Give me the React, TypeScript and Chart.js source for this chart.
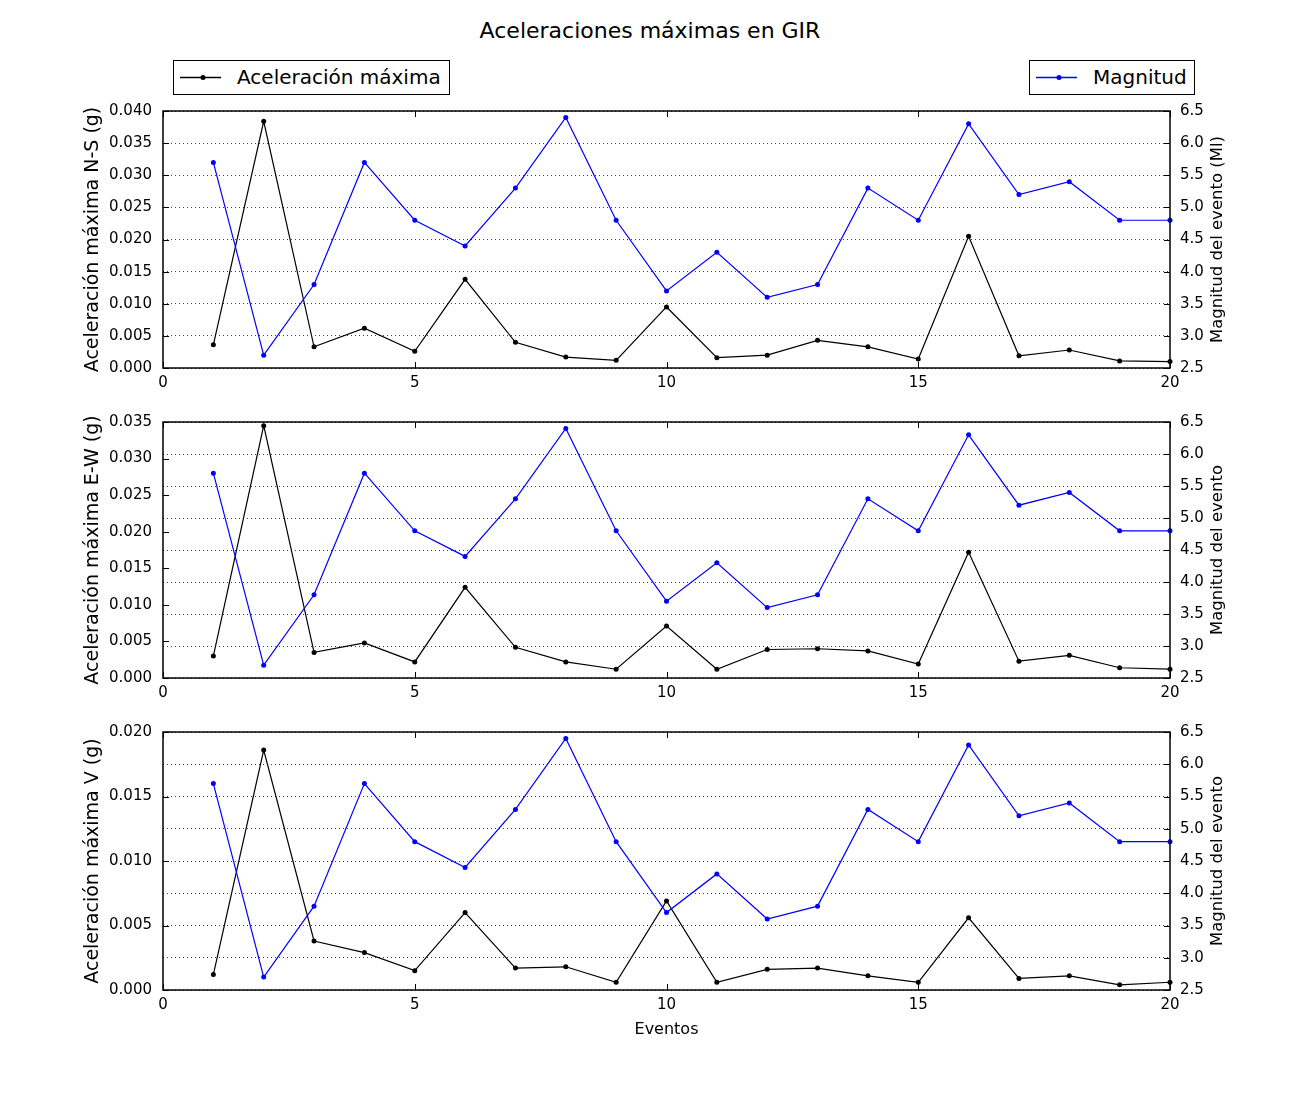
import React, { useEffect, useRef } from "react";
import { Chart, registerables } from "chart.js";

Chart.register(...registerables);

// ---------------- data ----------------
const chartTitle = "Aceleraciones máximas en GIR";
const accLabel = "Aceleración máxima";
const magLabel = "Magnitud";
const xAxisLabel = "Eventos";

const events = [1, 2, 3, 4, 5, 6, 7, 8, 9, 10, 11, 12, 13, 14, 15, 16, 17, 18, 19, 20];

const magnitude = [5.7, 2.7, 3.8, 5.7, 4.8, 4.4, 5.3, 6.4, 4.8, 3.7, 4.3, 3.6, 3.8, 5.3, 4.8, 6.3, 5.2, 5.4, 4.8, 4.8];

const accNS = [0.0036, 0.0384, 0.0033, 0.0062, 0.0026, 0.0138, 0.004, 0.0017, 0.0012, 0.0095, 0.0016, 0.002, 0.0043, 0.0033, 0.0014, 0.0205, 0.0019, 0.0028, 0.0011, 0.001];

const accEW = [0.003, 0.0345, 0.0035, 0.0048, 0.0022, 0.0124, 0.0042, 0.0022, 0.0012, 0.0071, 0.0012, 0.0039, 0.004, 0.0037, 0.0019, 0.0172, 0.0023, 0.0031, 0.0014, 0.0012];

const accV = [0.0012, 0.0186, 0.0038, 0.0029, 0.0015, 0.006, 0.0017, 0.0018, 0.0006, 0.0069, 0.0006, 0.0016, 0.0017, 0.0011, 0.0006, 0.0056, 0.0009, 0.0011, 0.0004, 0.0006];

const leftTitles = ["Aceleración máxima N-S (g)", "Aceleración máxima E-W (g)", "Aceleración máxima V (g)"];
const rightTitles = ["Magnitud del evento (Ml)", "Magnitud del evento", "Magnitud del evento"];
const leftMax = [0.04, 0.035, 0.02];
const leftStep = 0.005;
const xMin = 0;
const xMax = 20;
const xStep = 5;
const magMin = 2.5;
const magMax = 6.5;
const magStep = 0.5;

// ---------------- styling / layout ----------------
const FONT = "'DejaVu Sans', 'Liberation Sans', sans-serif";
const BLACK = "#000000";
const BLUE = "#0000ff";

const panelLayout = [
  { top: 91, height: 309, xAxisH: 32, showXTitle: false },
  { top: 402, height: 308, xAxisH: 32, showXTitle: false },
  { top: 712, height: 333, xAxisH: 55, showXTitle: true },
];

const framePlugin = {
  id: "frameTicks",
  afterDatasetsDraw(chart: any) {
    const { ctx, chartArea: a, scales } = chart;
    const tl = 6;
    ctx.save();
    ctx.strokeStyle = BLACK;
    ctx.lineWidth = 1;
    ctx.beginPath();
    scales.x.ticks.forEach((t: any) => {
      const px = Math.round(scales.x.getPixelForValue(t.value)) + 0.5;
      ctx.moveTo(px, a.bottom);
      ctx.lineTo(px, a.bottom - tl);
      ctx.moveTo(px, a.top);
      ctx.lineTo(px, a.top + tl);
    });
    scales.y.ticks.forEach((t: any) => {
      const py = Math.round(scales.y.getPixelForValue(t.value)) + 0.5;
      ctx.moveTo(a.left, py);
      ctx.lineTo(a.left + tl, py);
    });
    scales.y1.ticks.forEach((t: any) => {
      const py = Math.round(scales.y1.getPixelForValue(t.value)) + 0.5;
      ctx.moveTo(a.right, py);
      ctx.lineTo(a.right - tl, py);
    });
    ctx.stroke();
    ctx.lineWidth = 1.5;
    ctx.strokeRect(a.left, a.top, a.right - a.left, a.bottom - a.top);
    ctx.restore();
  },
};

// right-hand axis title, read bottom-to-top like the left one
const rightTitlePlugin = {
  id: "rightTitle",
  afterDraw(chart: any, _args: any, opts: any) {
    const { ctx, chartArea: a } = chart;
    ctx.save();
    ctx.translate(opts.x, (a.top + a.bottom) / 2);
    ctx.rotate(-Math.PI / 2);
    ctx.fillStyle = BLACK;
    ctx.font = `${opts.size}px ${FONT}`;
    ctx.textAlign = "center";
    ctx.textBaseline = "middle";
    ctx.fillText(opts.text, 0, 0);
    ctx.restore();
  },
};

function makeConfig(i: number, acc: number[]) {
  const lay = panelLayout[i];
  return {
    type: "line" as const,
    data: {
      datasets: [
        {
          label: magLabel,
          data: events.map((e, k) => ({ x: e, y: magnitude[k] })),
          yAxisID: "y1",
          borderColor: BLUE,
          backgroundColor: BLUE,
          borderWidth: 1.2,
          pointRadius: 2.5,
          pointBorderWidth: 0,
          pointBackgroundColor: BLUE,
          tension: 0,
          order: 0,
          clip: false as any,
        },
        {
          label: accLabel,
          data: events.map((e, k) => ({ x: e, y: acc[k] })),
          yAxisID: "y",
          borderColor: BLACK,
          backgroundColor: BLACK,
          borderWidth: 1.2,
          pointRadius: 2.5,
          pointBorderWidth: 0,
          pointBackgroundColor: BLACK,
          tension: 0,
          order: 1,
          clip: false as any,
        },
      ],
    },
    options: {
      animation: false as const,
      responsive: false,
      maintainAspectRatio: false,
      devicePixelRatio: 1,
      layout: { padding: { top: 1, left: 82, right: 74, bottom: 0 } },
      plugins: {
        legend: { display: false },
        tooltip: { enabled: false },
        title: { display: false },
        rightTitle: { text: rightTitles[i], x: 1218, size: 16.5 },
      },
      scales: {
        x: {
          type: "linear" as const,
          position: "bottom" as const,
          min: xMin,
          max: xMax,
          ticks: {
            stepSize: xStep,
            padding: 6,
            color: BLACK,
            font: { family: FONT, size: 15 },
            maxRotation: 0,
            autoSkip: false,
          },
          grid: { display: false, drawTicks: false },
          border: { display: false },
          title: {
            display: lay.showXTitle,
            text: xAxisLabel,
            color: BLACK,
            font: { family: FONT, size: 16 },
            padding: { top: 0, bottom: 6 },
          },
          afterFit(scale: any) {
            scale.height = lay.xAxisH;
          },
        },
        y: {
          type: "linear" as const,
          position: "left" as const,
          min: 0,
          max: leftMax[i],
          ticks: {
            stepSize: leftStep,
            padding: 11,
            color: BLACK,
            font: { family: FONT, size: 15 },
            autoSkip: false,
            callback: (v: any) => Number(v).toFixed(3),
          },
          grid: { display: false, drawTicks: false },
          border: { display: false },
          title: {
            display: true,
            text: leftTitles[i],
            color: BLACK,
            font: { family: FONT, size: 19 },
            padding: 0,
          },
          afterFit(scale: any) {
            scale.width = 81;
          },
        },
        y1: {
          type: "linear" as const,
          position: "right" as const,
          min: magMin,
          max: magMax,
          ticks: {
            stepSize: magStep,
            padding: 10,
            color: BLACK,
            font: { family: FONT, size: 15 },
            autoSkip: false,
            callback: (v: any) => Number(v).toFixed(1),
          },
          grid: {
            display: true,
            drawTicks: false,
            color: "rgba(0,0,0,0.75)",
            lineWidth: 1,
          },
          border: { display: false, dash: [1, 3] },
          title: { display: false },
          afterFit(scale: any) {
            scale.width = 56;
          },
        },
      },
    },
    plugins: [framePlugin, rightTitlePlugin],
  };
}

function LegendBox(props: { left: number; width: number; color: string; label: string }) {
  return (
    <div
      style={{
        position: "absolute",
        left: props.left,
        top: 60,
        width: props.width,
        height: 35,
        border: "1px solid #000",
        boxSizing: "border-box",
        background: "#fff",
        fontFamily: FONT,
        fontSize: 20,
        color: "#000",
      }}
    >
      <svg width={56} height={33} style={{ position: "absolute", left: 0, top: 0 }}>
        <line x1={6} y1={16.5} x2={47} y2={16.5} stroke={props.color} strokeWidth={1.3} />
        <circle cx={29} cy={16.5} r={2.5} fill={props.color} />
      </svg>
      <span style={{ position: "absolute", left: 63, top: 0, lineHeight: "33px", whiteSpace: "nowrap" }}>
        {props.label}
      </span>
    </div>
  );
}

export default function App() {
  const ref0 = useRef<HTMLCanvasElement>(null);
  const ref1 = useRef<HTMLCanvasElement>(null);
  const ref2 = useRef<HTMLCanvasElement>(null);

  useEffect(() => {
    Chart.defaults.font.family = FONT;
    const refs = [ref0, ref1, ref2];
    const accs = [accNS, accEW, accV];
    const charts = refs.map((r, i) => new Chart(r.current as HTMLCanvasElement, makeConfig(i, accs[i]) as any));
    return () => charts.forEach((c) => c.destroy());
  }, []);

  const refs = [ref0, ref1, ref2];

  return (
    <div
      style={{
        position: "absolute",
        left: 0,
        top: 0,
        width: 1300,
        height: 1100,
        background: "#fff",
        overflow: "hidden",
      }}
    >
      {panelLayout.map((p, i) => (
        <canvas
          key={i}
          ref={refs[i]}
          width={1300}
          height={p.height}
          style={{ position: "absolute", left: 0, top: p.top, width: 1300, height: p.height }}
        />
      ))}
      <div
        style={{
          position: "absolute",
          left: 0,
          top: 17,
          width: 1300,
          textAlign: "center",
          fontFamily: FONT,
          fontSize: 22,
          lineHeight: "28px",
          color: "#000",
        }}
      >
        {chartTitle}
      </div>
      <LegendBox left={173} width={277} color={BLACK} label={accLabel} />
      <LegendBox left={1029} width={166} color={BLUE} label={magLabel} />
    </div>
  );
}
